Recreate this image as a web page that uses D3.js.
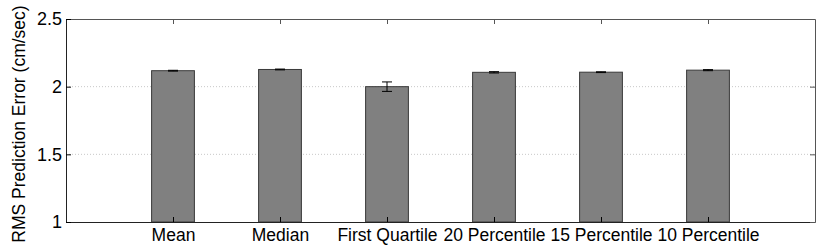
<!DOCTYPE html>
<html>
<head>
<meta charset="utf-8">
<script src="https://d3js.org/d3.v7.min.js"></script>
<style>
  body { margin: 0; background: #fff; }
  text { font-family: "Liberation Sans", Arial, sans-serif; }
</style>
</head>
<body>
<script>
var categories = ['Mean', 'Median', 'First Quartile', '20 Percentile', '15 Percentile', '10 Percentile'];
var values = [2.118, 2.127, 2.0, 2.106, 2.107, 2.122];
var errors = [0.003, 0.003, 0.035, 0.005, 0.003, 0.004];
var yTicks = [1, 1.5, 2, 2.5];

var w = 830, h = 250;
var margin = {top: 19, right: 15, bottom: 28, left: 66};
var innerW = w - margin.left - margin.right;
var innerH = h - margin.top - margin.bottom;

var svg = d3.select('body').append('svg')
    .attr('width', w)
    .attr('height', h);
var g = svg.append('g')
    .attr('transform', 'translate(' + [margin.left, margin.top] + ')');

var x = d3.scaleLinear().domain([0, categories.length + 1]).range([0, innerW]);
var y = d3.scaleLinear().domain([1, 2.5]).range([innerH, 0]);
var barW = x(0.4) - x(0);

// grid
g.selectAll('.grid')
    .data([1.5, 2])
  .enter().append('line')
    .attr('x1', 0).attr('x2', innerW)
    .attr('y1', function(d){return y(d);})
    .attr('y2', function(d){return y(d);})
    .attr('stroke', '#c8c8c8')
    .attr('stroke-dasharray', '1,2');

// bars
g.selectAll('.bar')
    .data(values)
  .enter().append('rect')
    .attr('x', function(d, i){return x(i + 1) - barW / 2;})
    .attr('y', function(d){return y(d);})
    .attr('width', barW)
    .attr('height', function(d){return y(1) - y(d);})
    .attr('fill', '#808080')
    .attr('stroke', '#3a3a3a')
    .attr('stroke-width', 1);

// error bars
var eb = g.selectAll('.err')
    .data(values)
  .enter().append('g')
    .attr('stroke', '#000')
    .attr('stroke-width', 1);
eb.append('line')
    .attr('x1', function(d, i){return x(i + 1);})
    .attr('x2', function(d, i){return x(i + 1);})
    .attr('y1', function(d, i){return y(d - errors[i]);})
    .attr('y2', function(d, i){return y(d + errors[i]);});
[-1, 1].forEach(function(s) {
  eb.append('line')
      .attr('x1', function(d, i){return x(i + 1) - 5;})
      .attr('x2', function(d, i){return x(i + 1) + 5;})
      .attr('y1', function(d, i){return y(d + s * errors[i]);})
      .attr('y2', function(d, i){return y(d + s * errors[i]);});
});

// axes
var xTicks = d3.range(1, categories.length + 1);
g.append('g')
    .attr('transform', 'translate(0,' + innerH + ')')
    .call(d3.axisBottom(x).tickValues(xTicks).tickSizeInner(-5).tickSizeOuter(0)
      .tickPadding(7).tickFormat(function(d){return categories[d - 1];}))
    .call(function(a) {
      a.select('.domain').attr('stroke', '#222');
      a.selectAll('text').attr('font-size', 17.5).attr('fill', '#000');
    });
g.append('g')
    .call(d3.axisTop(x).tickValues(xTicks).tickSizeInner(-5).tickSizeOuter(0).tickFormat(''))
    .call(function(a){ a.select('.domain').attr('stroke', '#555'); a.selectAll('line').attr('stroke', '#555'); });
g.append('g')
    .call(d3.axisLeft(y).tickValues(yTicks).tickSizeInner(-5).tickSizeOuter(0)
      .tickPadding(4).tickFormat(d3.format('')))
    .call(function(a) {
      a.select('.domain').attr('stroke', '#222');
      a.selectAll('text').attr('font-size', 18).attr('fill', '#000');
    });
g.append('g')
    .attr('transform', 'translate(' + innerW + ',0)')
    .call(d3.axisRight(y).tickValues(yTicks).tickSizeInner(-5).tickSizeOuter(0).tickFormat(''))
    .call(function(a){ a.select('.domain').attr('stroke', '#555'); a.selectAll('line').attr('stroke', '#555'); });

svg.append('text')
    .attr('transform', 'translate(25,124) rotate(-90)')
    .attr('text-anchor', 'middle')
    .attr('font-size', 17.5)
    .text('RMS Prediction Error (cm/sec)');
</script>
</body>
</html>
